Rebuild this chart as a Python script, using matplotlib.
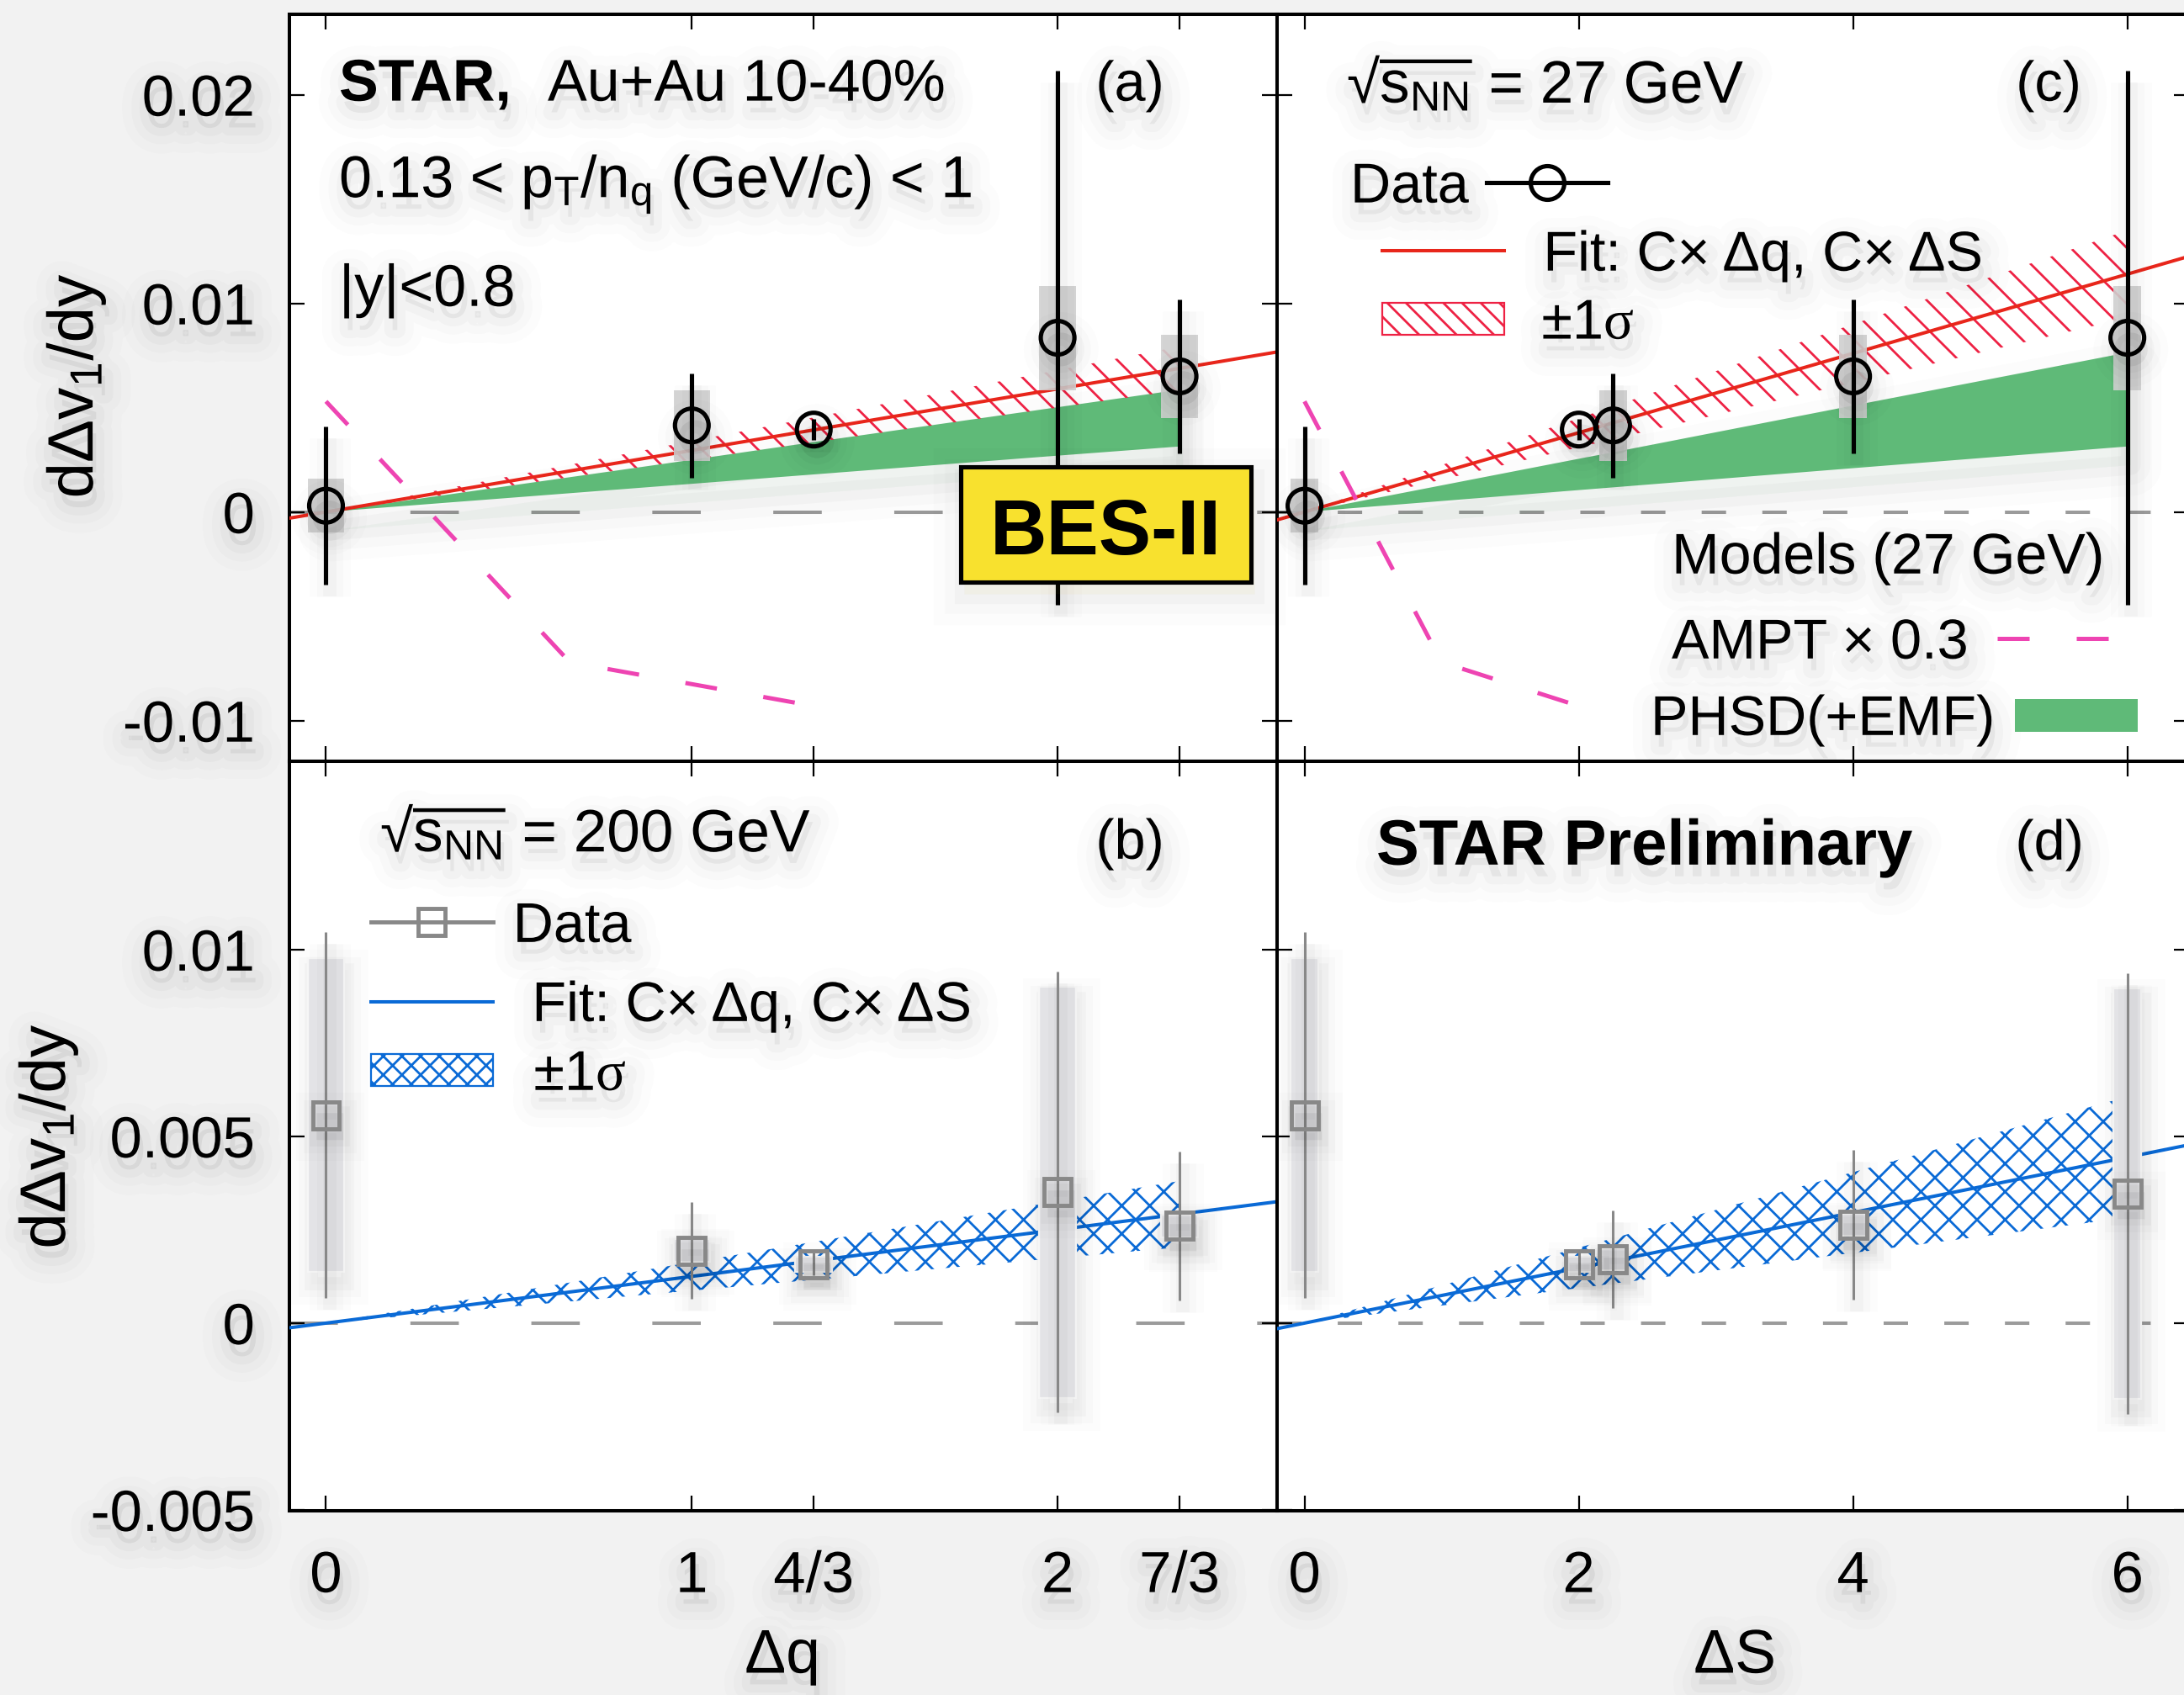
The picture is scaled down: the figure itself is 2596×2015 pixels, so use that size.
import numpy as np
import matplotlib
matplotlib.use("Agg")
import matplotlib.pyplot as plt
import matplotlib.patheffects as pe
from matplotlib.legend import Legend
from matplotlib.lines import Line2D
from matplotlib.patches import Rectangle, Patch

plt.rcParams['font.family'] = ['Liberation Sans', 'DejaVu Sans']
plt.rcParams['mathtext.fontset'] = 'custom'
plt.rcParams['mathtext.rm'] = 'Liberation Sans'
plt.rcParams['mathtext.it'] = 'Liberation Serif'
plt.rcParams['mathtext.bf'] = 'Liberation Sans:bold'
plt.rcParams['hatch.linewidth'] = 1.0

# 27 GeV data, panels (a) and (c)
dq = [0, 1, 4/3, 2, 7/3]
ds = [0, 2.25, 2, 6, 4]
v_27 = [0.0003, 0.00415, 0.00395, 0.00835, 0.0065]
stat_27 = [0.0038, 0.0025, 0.0005, 0.0128, 0.0037]
sys_27 = [0.0013, 0.0017, 0.0, 0.0025, 0.002]

# 200 GeV data, panels (b) and (d)
v_200_q = [0.00557, 0.00194, 0.00158, 0.0035, 0.0026]
v_200_s = [0.00557, 0.00171, 0.00158, 0.00347, 0.00263]
stat_200 = [0.0049, 0.0013, 0.0003, 0.0059, 0.002]
sys_200 = [0.0042, 0.0003, 0.0002, 0.0055, 0.0003]

# fits C x dq / C x dS : slope and 1 sigma
fit_q27, sig_q27 = 0.00295, 0.00045
fit_s27, sig_s27 = 0.0019, 0.00035
fit_q200, sig_q200 = 0.00125, 0.00038
fit_s200, sig_s200 = 0.00074, 0.00027

# models at 27 GeV
ampt_q = [0, 2/3, 4/3]
ampt_s = [0, 1, 2]
ampt_v = [0.0053, -0.0072, -0.0093]
phsd_q = [0, 1, 4/3, 2, 7/3]
phsd_q_hi = [0, 0.0025, 0.00335, 0.00502, 0.00586]
phsd_q_lo = [0, 0.00135, 0.0018, 0.0027, 0.00314]
phsd_s = [0, 2, 2.25, 4, 6]
phsd_s_hi = [0, 0.00255, 0.00286, 0.0051, 0.00764]
phsd_s_lo = [0, 0.00105, 0.00118, 0.0021, 0.00314]

q_ticks = [0, 1, 4/3, 2, 7/3]
q_labels = ['0', '1', '4/3', '2', '7/3']
s_ticks = [0, 2, 4, 6]
s_labels = ['0', '2', '4', '6']
top_yticks = [-0.01, 0, 0.01, 0.02]
top_ylabels = ['-0.01', '0', '0.01', '0.02']
bot_yticks = [-0.005, 0, 0.005, 0.01]
bot_ylabels = ['-0.005', '0', '0.005', '0.01']

RED = '#e8261b'
HRED = '#ee2244'
BLUE = '#0a6ad6'
MAGENTA = '#ee44b2'
GREEN = '#5fba78'
GRAY = '#888888'

W, H, DPI = 2596, 2015, 200
FS = 24
fig = plt.figure(figsize=(W / DPI, (H + 0.4) / DPI), dpi=DPI, facecolor='#f2f2f2')


def soft(k=1.0, dy=-5):
    # blurry drop shadow, faked with a few wide translucent strokes
    return [pe.Stroke(linewidth=w * k, foreground='k', alpha=a, offset=(1.5, dy))
            for w, a in ((22, 0.012), (14, 0.016), (7, 0.022))] + [pe.Normal()]


def box(x0, y0, x1, y1):
    return [x0 / W, 1 - y1 / H, (x1 - x0) / W, (y1 - y0) / H]


ax_a = fig.add_axes(box(344, 17, 1518, 905))
ax_c = fig.add_axes(box(1518, 17, 2602, 905))
ax_b = fig.add_axes(box(344, 905, 1518, 1796))
ax_d = fig.add_axes(box(1518, 905, 2602, 1796))

QLIM = (-0.1, 2.6)
SLIM = (-0.2, 6.45)
TOPLIM = (-0.01194, 0.02387)
BOTLIM = (-0.005023, 0.015045)


def style(ax, xlim, ylim, xt, yt):
    ax.set_xlim(xlim)
    ax.set_ylim(ylim)
    ax.set_xticks(xt)
    ax.set_yticks(yt)
    ax.tick_params(direction='in', top=True, right=True, length=6.4, width=0.8,
                   labelsize=24.8)
    ax.tick_params(axis='x', pad=16.8)
    ax.tick_params(axis='y', pad=14.8)
    for s in ax.spines.values():
        s.set_linewidth(1.45)


style(ax_a, QLIM, TOPLIM, q_ticks, top_yticks)
style(ax_c, SLIM, TOPLIM, s_ticks, top_yticks)
style(ax_b, QLIM, BOTLIM, q_ticks, bot_yticks)
style(ax_d, SLIM, BOTLIM, s_ticks, bot_yticks)
ax_a.tick_params(labelbottom=False)
ax_a.set_yticklabels(top_ylabels)
ax_c.tick_params(labelbottom=False, labelleft=False)
ax_b.set_xticklabels(q_labels)
ax_b.set_yticklabels(bot_ylabels)
ax_d.tick_params(labelleft=False)
ax_d.set_xticklabels(s_labels)
for ax in (ax_a, ax_b, ax_d):
    for lbl in ax.get_xticklabels() + ax.get_yticklabels():
        lbl.set_path_effects(soft())

# zero lines
for ax in (ax_a, ax_b):
    ax.axhline(0, color='#9b9b9b', lw=1.45, dashes=(14.3, 21.4), zorder=1)
for ax in (ax_c, ax_d):
    ax.axhline(0, color='#9b9b9b', lw=1.45, dashes=(7.2, 10.7), zorder=1)


def fit_band(ax, x, c, sig, xlim, hatch_color, line_color, hatch):
    xb = np.array([0, max(x)])
    ax.fill_between(xb, (c - sig) * xb, (c + sig) * xb, facecolor='none',
                    edgecolor=hatch_color, hatch=hatch, lw=0, zorder=2)
    xl = np.array(xlim)
    ax.plot(xl, c * xl, color=line_color, lw=1.45, zorder=3)


def shade_errorbar(eb):
    for art in eb.lines[0:1] + eb.lines[2]:
        art.set_path_effects(soft(0.8))


# 27 GeV panels
for ax, x, c, sig, xlim, px, phi, plo, ax_x, w in (
        (ax_a, dq, fit_q27, sig_q27, QLIM, phsd_q, phsd_q_hi, phsd_q_lo, ampt_q, 0.1),
        (ax_c, ds, fit_s27, sig_s27, SLIM, phsd_s, phsd_s_hi, phsd_s_lo, ampt_s, 0.2)):
    ax.fill_between(px, plo, phi, color=GREEN, lw=0, zorder=2,
                    path_effects=soft(1.2, -8))
    fit_band(ax, x, c, sig, xlim, HRED, RED, '\\\\')
    ax.plot(ax_x, ampt_v, color=MAGENTA, lw=1.8, dashes=(7.6, 11.2), zorder=3)
    ax.bar(x, 2 * np.array(sys_27), bottom=np.array(v_27) - np.array(sys_27),
           width=w, color='#d2d2d2', alpha=0.9, zorder=4)
    eb = ax.errorbar(x, v_27, yerr=stat_27, fmt='o', ms=14.4, mfc='none', mec='k',
                     mew=1.85, ecolor='k', elinewidth=1.85, capsize=0, zorder=5)
    shade_errorbar(eb)

# 200 GeV panels
for ax, x, v, c, sig, xlim, w in (
        (ax_b, dq, v_200_q, fit_q200, sig_q200, QLIM, 0.1),
        (ax_d, ds, v_200_s, fit_s200, sig_s200, SLIM, 0.2)):
    fit_band(ax, x, c, sig, xlim, BLUE, BLUE, 'xx')
    bars = ax.bar(x, 2 * np.array(sys_200), bottom=np.array(v) - np.array(sys_200),
                  width=w, color='#e6e6e9', edgecolor='#f6f6f6', lw=0.8, zorder=4)
    for b in bars:
        b.set_path_effects(soft(0.8))
    eb = ax.errorbar(x, v, yerr=stat_200, fmt='s', ms=11.5, mfc='none', mec=GRAY,
                     mew=1.76, ecolor=GRAY, elinewidth=1.1, capsize=0, zorder=5)
    shade_errorbar(eb)


def T(x, y, s, **kw):
    kw.setdefault('fontsize', FS)
    kw.setdefault('path_effects', soft())
    return fig.text(x / W, 1 - y / H, s, va='baseline', **kw)


def key(ax, handle, label, x, y, first=True, hl=2.17, hh=0.7, pad=0.7):
    leg = Legend(ax, [handle], [label], loc='lower left',
                 bbox_to_anchor=(x / W, 1 - y / H), bbox_transform=fig.transFigure,
                 frameon=False, borderpad=0, borderaxespad=0, handlelength=hl,
                 handleheight=hh, handletextpad=pad, markerfirst=first,
                 fontsize=FS, numpoints=1)
    for t in leg.get_texts():
        t.set_path_effects(soft())
    ax.add_artist(leg)


# panel labels and (a) texts
T(403, 120, 'STAR,', fontsize=25.2, fontweight='bold')
T(651, 120, 'Au+Au 10-40%', fontsize=25.2)
T(403, 235, r'0.13 < p$_{\mathrm{T}}$/n$_{\mathrm{q}}$ (GeV/c) < 1', fontsize=25.2)
T(403, 364, '|y|<0.8', fontsize=25.2)
T(1343, 120, '(a)', ha='center')
T(1343, 1021, '(b)', ha='center')
T(2435, 120, '(c)', ha='center')
T(2436, 1022, '(d)', ha='center')

fig.add_artist(Rectangle((1142 / W, 1 - 692 / H), 345 / W, 137 / H,
                         transform=fig.transFigure, fc='#f8e12e', ec='k',
                         lw=1.85, zorder=10, path_effects=soft(1.2, -5)))
T(1314, 659, 'BES-II', ha='center', fontsize=33.6, fontweight='bold', zorder=11,
  path_effects=[])

# panel (c) texts and keys
T(1601, 123, r'√$\overline{\mathrm{s}_{\mathrm{NN}}}$ = 27 GeV', fontsize=25.6)
key(ax_c, Line2D([], [], color='k', lw=1.85, marker='o', ms=14.4, mfc='none', mew=1.85),
    'Data', 1605, 255, first=False, pad=0.31)
key(ax_c, Line2D([], [], color=RED, lw=1.45), 'Fit: C× Δq, C× ΔS', 1643, 336)
key(ax_c, Patch(facecolor='white', edgecolor=HRED, hatch='\\\\\\', lw=0.8),
    r'±1$\sigma$', 1643, 417, hh=0.51, pad=0.67)
T(1987, 682, 'Models (27 GeV)', fontsize=24.5)
key(ax_c, Line2D([], [], color=MAGENTA, lw=1.8, dashes=(7.6, 11.2)),
    'AMPT × 0.3', 1987, 797, first=False, hl=2.0, pad=0.52)
key(ax_c, Patch(facecolor=GREEN, lw=0), 'PHSD(+EMF)', 1962, 888,
    first=False, hl=2.19, hh=0.52, pad=0.36)

# panel (b) texts and keys
T(452, 1013, r'√$\overline{\mathrm{s}_{\mathrm{NN}}}$ = 200 GeV', fontsize=25.6)
key(ax_b, Line2D([], [], color=GRAY, lw=1.76, marker='s', ms=11.5, mfc='none',
                 mec=GRAY, mew=1.76), 'Data', 441, 1134, pad=0.36)
key(ax_b, Line2D([], [], color=BLUE, lw=1.45), 'Fit: C× Δq, C× ΔS', 441, 1228)
key(ax_b, Patch(facecolor='white', edgecolor=BLUE, hatch='xxx', lw=0.8),
    r'±1$\sigma$', 441, 1310, hh=0.51, pad=0.73)

# panel (d)
T(1636, 1028, 'STAR Preliminary', fontsize=27.4, fontweight='bold')

# axis titles
for x, y in ((91, 459), (58, 1351)):
    fig.text(x / W, 1 - y / H, r'd$\Delta$v$_1$/dy', rotation=90, ha='center',
             va='center', fontsize=27.5, path_effects=soft())
fig.text(930 / W, 1 - 1970 / H, 'Δq', ha='center', va='center', fontsize=26.4,
         path_effects=soft())
fig.text(2062 / W, 1 - 1970 / H, 'ΔS', ha='center', va='center', fontsize=26.4,
         path_effects=soft())

fig.savefig('out.png', dpi=DPI, facecolor=fig.get_facecolor())
